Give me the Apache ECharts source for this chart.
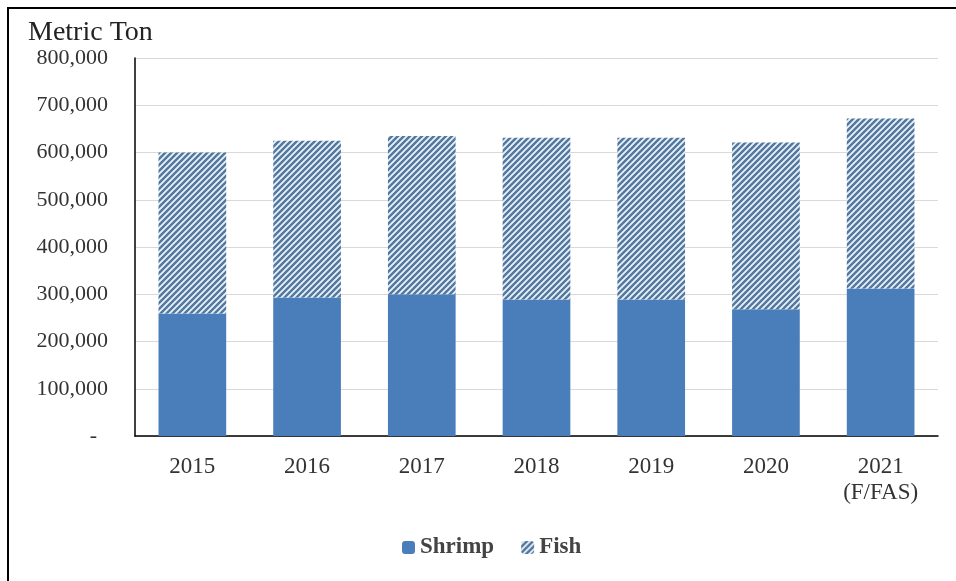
<!DOCTYPE html>
<html><head><meta charset="utf-8">
<script src="https://cdn.jsdelivr.net/npm/echarts@6/dist/echarts.min.js"></script>
<style>html,body{margin:0;padding:0;background:#fff}#c{width:956px;height:581px}</style>
</head><body><div id="c"></div>
<script>
const categories = ['2015','2016','2017','2018','2019','2020','2021\n(F/FAS)'];
const shrimp = [259000, 293000, 300000, 289000, 289000, 268000, 312000];
const fish = [341000, 332000, 335000, 342000, 342000, 353000, 360000];
const yTicks = { min: 0, max: 800000, interval: 100000 };

function makePattern() {
  const s = 6;
  const cv = document.createElement('canvas');
  cv.width = s; cv.height = s;
  const ctx = cv.getContext('2d');
  ctx.fillStyle = '#eaf4fb';
  ctx.fillRect(0, 0, s, s);
  ctx.strokeStyle = '#55789e';
  ctx.lineWidth = 2.5;
  ctx.beginPath();
  ctx.moveTo(-1, s + 1); ctx.lineTo(s + 1, -1);
  ctx.moveTo(-1, 1); ctx.lineTo(1, -1);
  ctx.moveTo(s - 1, s + 1); ctx.lineTo(s + 1, s - 1);
  ctx.stroke();
  return cv;
}
const pattern = { image: makePattern(), repeat: 'repeat' };
const font = '"Liberation Serif", "Times New Roman", serif';

const chart = echarts.init(document.getElementById('c'));
chart.setOption({
  animation: false,
  textStyle: { fontFamily: font },
  graphic: [
    { type: 'rect', shape: { x: 8, y: 8, width: 1200, height: 1200 }, style: { fill: 'none', stroke: '#000', lineWidth: 2 } },
    { type: 'text', left: 28, top: 19, style: { text: 'Metric Ton', font: '28px ' + font, fill: '#222' } }
  ],
  grid: { left: 135, right: 18, top: 58, bottom: 145 },
  legend: {
    left: 397, top: 531,
    itemWidth: 13, itemHeight: 13, itemGap: 27,
    textStyle: { fontFamily: font, fontSize: 23, fontWeight: 'bold', color: '#444' },
    data: ['Shrimp', 'Fish']
  },
  xAxis: {
    type: 'category', data: categories,
    axisLine: { lineStyle: { color: '#000', width: 1.5 } },
    axisTick: { show: false },
    axisLabel: { color: '#333', fontSize: 23, fontFamily: font, margin: 18, lineHeight: 26 }
  },
  yAxis: {
    type: 'value', min: yTicks.min, max: yTicks.max, interval: yTicks.interval,
    axisLine: { show: true, lineStyle: { color: '#000', width: 1.5 } },
    axisTick: { show: false },
    splitLine: { lineStyle: { color: '#d9d9d9' } },
    axisLabel: {
      color: '#333', fontSize: 22, fontFamily: font, margin: 27,
      formatter: v => v === 0 ? '-  ' : v.toLocaleString('en-US')
    }
  },
  series: [
    { name: 'Shrimp', type: 'bar', stack: 't', barWidth: '59%', data: shrimp, itemStyle: { color: '#4a7ebb' } },
    { name: 'Fish', type: 'bar', stack: 't', data: fish, itemStyle: { color: pattern } }
  ]
});
</script></body></html>
